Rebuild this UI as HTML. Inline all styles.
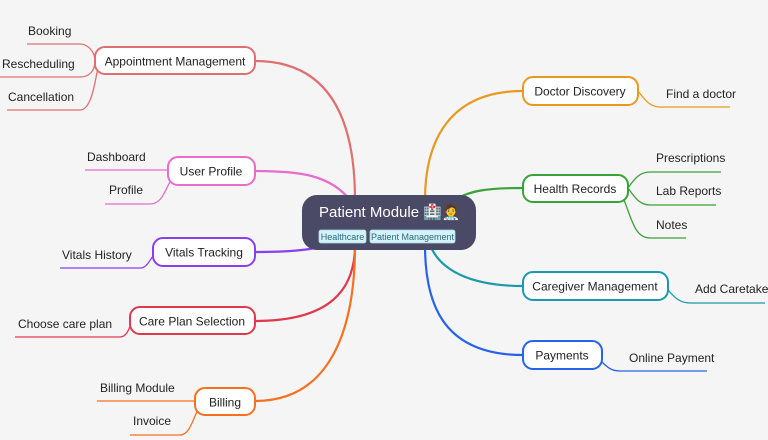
<!DOCTYPE html>
<html><head><meta charset="utf-8"><style>
html,body{margin:0;padding:0;background:#f5f5f5;}
svg{display:block}
text{font-family:"Liberation Sans","Noto Sans CJK SC",sans-serif;font-size:12px;fill:#222;}
.n{fill:#fff;stroke-width:2;}
.l{fill:none;stroke-width:1.3;}
.b{fill:none;stroke-width:2.2;}
</style></head><body>
<svg width="768" height="440" viewBox="0 0 768 440">
<path class="b" stroke="#e07070" d="M255 61 C330 61 355 120 355 200"/>
<path class="b" stroke="#e86cc9" d="M255 171 C300 171 330 175 350 200"/>
<path class="b" stroke="#8a3ff0" d="M255 252 C290 252 310 250 330 245"/>
<path class="b" stroke="#e0394c" d="M255 321 C330 321 355 290 355 245"/>
<path class="b" stroke="#f5701f" d="M255 401 C330 401 355 330 355 245"/>
<path class="b" stroke="#e8991f" d="M523 91 C450 91 425 140 425 200"/>
<path class="b" stroke="#3aa23a" d="M523 188 C490 188 470 190 455 200"/>
<path class="b" stroke="#1a9aaa" d="M523 286 C470 286 440 270 430 245"/>
<path class="b" stroke="#2563eb" d="M523 355 C440 355 425 300 425 245"/>
<g class="l">
<path stroke="#e07070" d="M27 44 H80 C88 44 95 52 95 61"/>
<path stroke="#e07070" d="M0 77 H80 C90 77 95 70 95 61"/>
<path stroke="#e07070" d="M7 110 H80 C92 110 95 80 98 68"/>
<path stroke="#e86cc9" d="M85 170 H168"/>
<path stroke="#e86cc9" d="M105 204 H150 C162 204 165 190 170 182"/>
<path stroke="#8a3ff0" d="M60 268 H140 C148 268 150 258 155 254"/>
<path stroke="#e0394c" d="M15 337 H120 C128 337 130 325 132 321"/>
<path stroke="#f5701f" d="M97 401 H195"/>
<path stroke="#f5701f" d="M130 435 H180 C190 435 193 418 198 410"/>
<path stroke="#e8991f" d="M638 91 C645 100 650 107 660 107 H730"/>
<path stroke="#3aa23a" d="M628 188 C635 178 640 172 650 172 H721"/>
<path stroke="#3aa23a" d="M628 188 C635 198 640 205 650 205 H716"/>
<path stroke="#3aa23a" d="M624 200 C632 220 635 238 650 238 H686"/>
<path stroke="#1a9aaa" d="M668 290 C675 298 680 303 690 303 H765"/>
<path stroke="#2563eb" d="M602 362 C608 368 612 371 620 371 H707"/>
</g>
<rect class="n" stroke="#e07070" x="95" y="47" width="160" height="27" rx="10"/>
<text x="175" y="65.5" text-anchor="middle">Appointment Management</text>
<rect class="n" stroke="#e86cc9" x="168" y="157" width="87" height="28" rx="10"/>
<text x="211" y="175.5" text-anchor="middle">User Profile</text>
<rect class="n" stroke="#8a3ff0" x="153" y="238" width="102" height="28" rx="10"/>
<text x="204" y="256.5" text-anchor="middle">Vitals Tracking</text>
<rect class="n" stroke="#e0394c" x="130" y="307" width="125" height="27" rx="10"/>
<text x="192" y="325.5" text-anchor="middle">Care Plan Selection</text>
<rect class="n" stroke="#f5701f" x="195" y="388" width="60" height="27" rx="10"/>
<text x="225" y="406.5" text-anchor="middle">Billing</text>
<rect class="n" stroke="#e8991f" x="523" y="77" width="115" height="28" rx="10"/>
<text x="580" y="95.5" text-anchor="middle">Doctor Discovery</text>
<rect class="n" stroke="#3aa23a" x="523" y="175" width="105" height="27" rx="10"/>
<text x="575" y="193" text-anchor="middle">Health Records</text>
<rect class="n" stroke="#1a9aaa" x="523" y="272" width="145" height="28" rx="10"/>
<text x="595" y="290.5" text-anchor="middle">Caregiver Management</text>
<rect class="n" stroke="#2563eb" x="523" y="341" width="79" height="28" rx="10"/>
<text x="562" y="359.5" text-anchor="middle">Payments</text>
<text x="28" y="35">Booking</text>
<text x="2" y="68">Rescheduling</text>
<text x="8" y="101">Cancellation</text>
<text x="87" y="161">Dashboard</text>
<text x="109" y="194">Profile</text>
<text x="62" y="259">Vitals History</text>
<text x="18" y="328">Choose care plan</text>
<text x="100" y="392">Billing Module</text>
<text x="133" y="425">Invoice</text>
<text x="666" y="98">Find a doctor</text>
<text x="656" y="162">Prescriptions</text>
<text x="656" y="195">Lab Reports</text>
<text x="656" y="229">Notes</text>
<text x="695" y="293">Add Caretaker</text>
<text x="629" y="362">Online Payment</text>
<rect x="302" y="195" width="174" height="55" rx="15" fill="#4a4a66"/>
<text x="319" y="217" style="font-size:15px;fill:#fff">Patient Module 🏥🧑‍⚕️</text>
<rect x="319" y="230" width="47" height="13" rx="2" fill="#d6f1f8" stroke="#a8dbe8" stroke-width="0.8"/>
<text x="342.5" y="240" text-anchor="middle" style="font-size:9px;fill:#2a6a7a">Healthcare</text>
<rect x="370" y="230" width="85" height="13" rx="2" fill="#d6f1f8" stroke="#a8dbe8" stroke-width="0.8"/>
<text x="412.5" y="240" text-anchor="middle" style="font-size:9px;fill:#2a6a7a">Patient Management</text>
</svg>
</body></html>
